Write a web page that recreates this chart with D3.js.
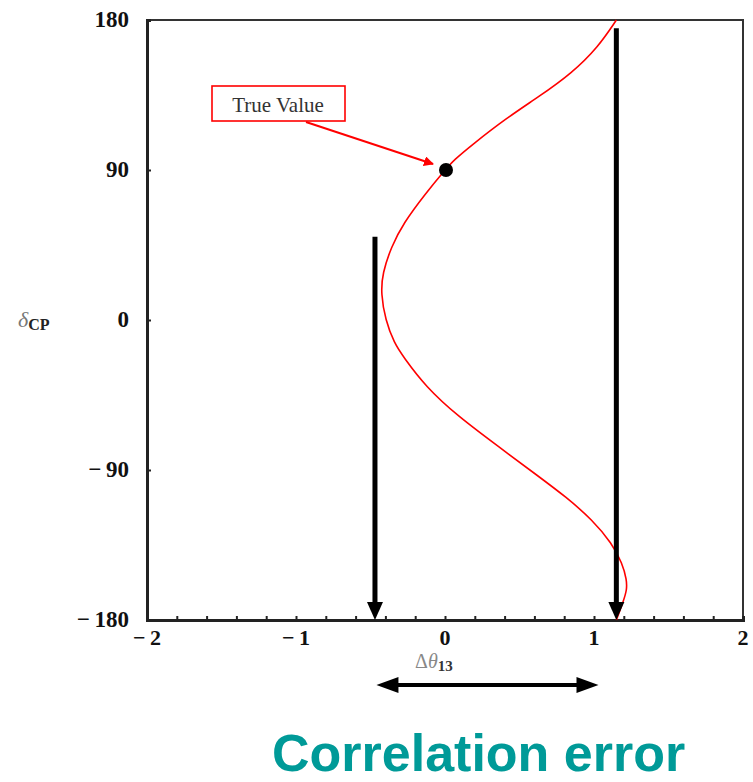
<!DOCTYPE html>
<html>
<head>
<meta charset="utf-8">
<script src="https://cdn.jsdelivr.net/npm/d3@7"></script>
<style>
  body { margin: 0; background: #fff; }
  svg { display: block; }
</style>
</head>
<body>
<svg id="chart" width="753" height="782"></svg>
<script>
// delta_CP (deg) vs delta theta_13
var deltaCP  = [180, 164, 148, 134, 121, 105, 96, 90, 76, 58, 44, 28, 16, 0, -14, -22, -40, -58, -76, -94, -106, -120, -134, -146, -156, -162, -168, -180];
var dTheta13 = [1.15, 1.03, 0.85, 0.63, 0.41, 0.18, 0.06, 0.0, -0.13, -0.28, -0.36, -0.42, -0.43, -0.40, -0.34, -0.28, -0.13, 0.09, 0.36, 0.63, 0.81, 0.99, 1.12, 1.19, 1.22, 1.22, 1.20, 1.15];

var xMinorTicks = [-2, -1.8, -1.6, -1.4, -1.2, -1, -0.8, -0.6, -0.4, -0.2, 0, 0.2, 0.4, 0.6, 0.8, 1, 1.2, 1.4, 1.6, 1.8, 2];
var xTickLabels = [-2, -1, 0, 1, 2];
var yTickLabels = [-180, -90, 0, 90, 180];

// true value point and the two vertical "range" arrows
var truePoint = { dtheta: 0.0, delta: 90 };
var arrowLeft  = { dtheta: -0.47, from: 50, to: -180 };
var arrowRight = { dtheta: 1.15, from: 175, to: -180 };
var spanArrow  = [-0.46, 1.03];

var svg = d3.select("#chart");

var x = d3.scaleLinear().domain([-2, 2]).range([147, 743]);
var y = d3.scaleLinear().domain([-180, 180]).range([620, 20]);

var fmt = function(d) { return d < 0 ? "\u2212\u2009" + Math.abs(d) : String(d); };

var defs = svg.append("defs");
defs.append("marker")
    .attr("id", "redhead")
    .attr("viewBox", "0 0 10 10")
    .attr("refX", 9).attr("refY", 5)
    .attr("markerWidth", 5).attr("markerHeight", 5)
    .attr("markerUnits", "strokeWidth")
    .attr("orient", "auto")
  .append("path")
    .attr("d", "M0,0L10,5L0,10Z")
    .attr("fill", "#ff0000");

// frame
svg.append("rect")
    .attr("x", x(-2)).attr("y", y(180))
    .attr("width", x(2) - x(-2)).attr("height", y(-180) - y(180))
    .attr("fill", "none")
    .attr("stroke", "#333")
    .attr("stroke-width", 2);

// inward tick marks
var xTicks = svg.append("g")
    .attr("transform", "translate(0," + y(-180) + ")")
    .call(d3.axisBottom(x).tickValues(xMinorTicks).tickSize(-4).tickFormat(""));
xTicks.select(".domain").attr("stroke", "#222").attr("stroke-width", 3);
xTicks.selectAll(".tick line").attr("stroke", "#222").attr("stroke-width", 2);

var yTicks = svg.append("g")
    .attr("transform", "translate(" + x(-2) + ",0)")
    .call(d3.axisLeft(y).tickValues(yTickLabels).tickSize(-4).tickFormat(""));
yTicks.select(".domain").attr("stroke", "#222").attr("stroke-width", 3);
yTicks.selectAll(".tick line").attr("stroke", "#222").attr("stroke-width", 2);

// tick labels
svg.append("g").selectAll("text")
    .data(xTickLabels)
  .enter().append("text")
    .attr("x", function(d) { return x(d); })
    .attr("y", 645)
    .attr("text-anchor", "middle")
    .attr("font-family", "Liberation Serif, serif")
    .attr("font-weight", "bold")
    .attr("font-size", 22)
    .attr("fill", "#111")
    .text(fmt);

svg.append("g").selectAll("text")
    .data(yTickLabels)
  .enter().append("text")
    .attr("x", 129)
    .attr("y", function(d) { return y(d) + 7; })
    .attr("text-anchor", "end")
    .attr("font-family", "Liberation Serif, serif")
    .attr("font-weight", "bold")
    .attr("font-size", 23)
    .attr("fill", "#111")
    .text(fmt);

// axis titles
var yTitle = svg.append("text")
    .attr("x", 18).attr("y", 327)
    .attr("font-family", "Liberation Serif, serif");
yTitle.append("tspan").attr("font-style", "italic").attr("font-size", 22).attr("fill", "#777").text("\u03b4");
yTitle.append("tspan").attr("font-weight", "bold").attr("font-size", 16).attr("fill", "#222").attr("dy", 3).text("CP");

var xTitle = svg.append("text")
    .attr("x", 415).attr("y", 668)
    .attr("font-family", "Liberation Serif, serif");
xTitle.append("tspan").attr("font-size", 20).attr("fill", "#888").text("\u0394");
xTitle.append("tspan").attr("font-style", "italic").attr("font-size", 20).attr("fill", "#888").text("\u03b8");
xTitle.append("tspan").attr("font-weight", "bold").attr("font-size", 15).attr("fill", "#333").attr("dy", 3).text("13");

// red curve
var pts = deltaCP.map(function(d, i) { return [dTheta13[i], d]; });
var line = d3.line()
    .x(function(d) { return x(d[0]); })
    .y(function(d) { return y(d[1]); })
    .curve(d3.curveBasis);
svg.append("path")
    .datum(pts)
    .attr("d", line)
    .attr("fill", "none")
    .attr("stroke", "#ff0000")
    .attr("stroke-width", 1.6);

// vertical black arrows
function vArrow(a) {
  var ax = x(a.dtheta), y0 = y(a.from), y1 = y(a.to);
  svg.append("line")
      .attr("x1", ax).attr("x2", ax)
      .attr("y1", y0).attr("y2", y1 - 16)
      .attr("stroke", "#000").attr("stroke-width", 5);
  svg.append("path")
      .attr("d", "M" + (ax - 8) + "," + (y1 - 18) + "L" + (ax + 8) + "," + (y1 - 18) + "L" + ax + "," + y1 + "Z")
      .attr("fill", "#000");
}
vArrow(arrowLeft);
vArrow(arrowRight);

// horizontal double arrow under the axis
var sx0 = x(spanArrow[0]), sx1 = x(spanArrow[1]), sy = 685;
svg.append("line")
    .attr("x1", sx0 + 14).attr("x2", sx1 - 14)
    .attr("y1", sy).attr("y2", sy)
    .attr("stroke", "#000").attr("stroke-width", 4);
svg.append("path")
    .attr("d", "M" + sx0 + "," + sy + "L" + (sx0 + 22) + "," + (sy - 8) + "L" + (sx0 + 22) + "," + (sy + 8) + "Z")
    .attr("fill", "#000");
svg.append("path")
    .attr("d", "M" + sx1 + "," + sy + "L" + (sx1 - 22) + "," + (sy - 8) + "L" + (sx1 - 22) + "," + (sy + 8) + "Z")
    .attr("fill", "#000");

// true value callout
svg.append("rect")
    .attr("x", 212).attr("y", 86)
    .attr("width", 133).attr("height", 35)
    .attr("fill", "#fff")
    .attr("stroke", "#ff0000")
    .attr("stroke-width", 1.6);
svg.append("text")
    .attr("x", 278).attr("y", 112)
    .attr("text-anchor", "middle")
    .attr("font-family", "Liberation Serif, serif")
    .attr("font-size", 21)
    .attr("fill", "#333")
    .text("True Value");
svg.append("line")
    .attr("x1", 306).attr("y1", 122)
    .attr("x2", x(truePoint.dtheta) - 12).attr("y2", y(truePoint.delta) - 6)
    .attr("stroke", "#ff0000")
    .attr("stroke-width", 2)
    .attr("marker-end", "url(#redhead)");

svg.append("circle")
    .attr("cx", x(truePoint.dtheta) + 1)
    .attr("cy", y(truePoint.delta))
    .attr("r", 7)
    .attr("fill", "#000");

// caption
svg.append("text")
    .attr("x", 272).attr("y", 771)
    .attr("font-family", "Liberation Sans, Arial, sans-serif")
    .attr("font-weight", "bold")
    .attr("font-size", 52)
    .attr("fill", "#009a98")
    .text("Correlation error");
</script>
</body>
</html>
